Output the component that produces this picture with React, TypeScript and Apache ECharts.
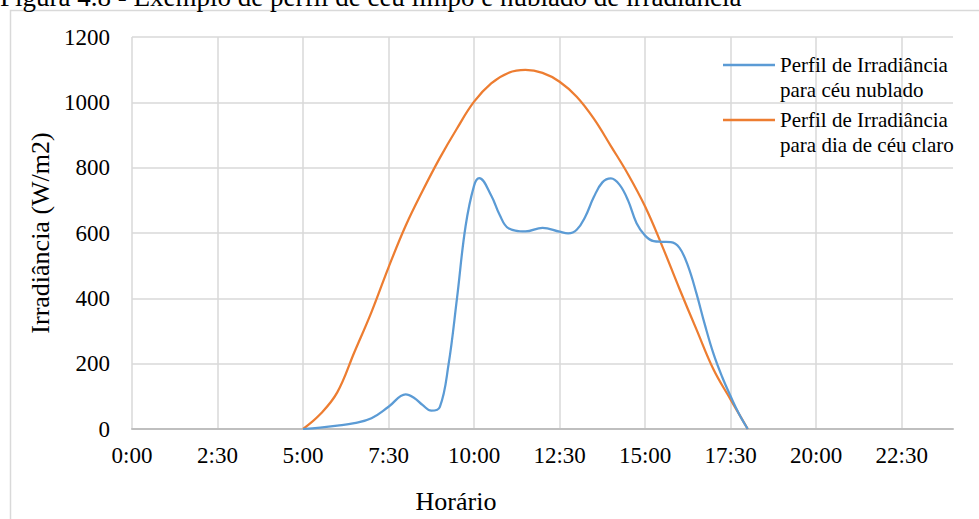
import React, { useEffect, useRef } from "react";
import * as echarts from "echarts";

const titleText = "Figura 4.8 - Exemplo de perfil de céu limpo e nublado de irradiância";
const xAxisTitle = "Horário";
const yAxisTitle = "Irradiância (W/m2)";
const seriesNames = [
  "Perfil de Irradiância\npara céu nublado",
  "Perfil de Irradiância\npara dia de céu claro",
];

// Cloudy-sky profile (hours, W/m2)
const cloudyHours = [
  5.0, 5.5, 6.0, 6.5, 7.0, 7.5, 8.0, 8.25, 8.5, 8.75, 9.0, 9.25, 9.5, 9.75, 10.0, 10.15,
  10.5, 10.75, 11.0, 11.5, 12.0, 12.5, 12.75, 13.0, 13.25, 13.5, 13.75, 14.0, 14.25, 14.5,
  14.75, 15.0, 15.25, 15.5, 15.75, 16.0, 16.25, 16.5, 16.75, 17.0, 17.25, 17.5, 17.75, 18.0,
];
const cloudyValues = [
  0, 4, 10, 18, 33, 68, 106, 95, 73, 56, 68, 195, 400, 620, 745, 768,
  715, 655, 615, 605, 616, 604, 599, 610, 650, 710, 755, 767, 748, 700,
  630, 592, 575, 573, 572, 555, 500, 415, 318, 230, 160, 100, 45, 0,
];

// Clear-sky profile (hours, W/m2)
const clearHours = [
  5.0, 5.5, 6.0, 6.5, 7.0, 7.5, 8.0, 8.5, 9.0, 9.5, 10.0, 10.5, 11.0, 11.5, 12.0, 12.5,
  13.0, 13.5, 14.0, 14.5, 15.0, 15.5, 16.0, 16.5, 17.0, 17.5, 18.0,
];
const clearValues = [
  0, 45, 112, 235, 358, 495, 622, 730, 830, 920, 1002, 1058, 1090, 1099, 1090, 1063,
  1017, 950, 866, 780, 681, 560, 430, 305, 182, 90, 0,
];

const xMin = 0;
const xMax = 24;
const xStep = 2.5;
const yMin = 0;
const yMax = 1200;
const yStep = 200;

const FONT = "'Liberation Serif', 'Times New Roman', serif";
// thin line at the top of a taller (invisible) box so it aligns with the first text line
const LEGEND_LINE_ICON = "path://M0,0L52,0L52,2.5L0,2.5Z M0,27.49L0.01,27.49L0.01,27.5Z";

export default function App() {
  const ref = useRef<HTMLDivElement>(null);

  useEffect(() => {
    if (!ref.current) return;
    const chart = echarts.init(ref.current, undefined, { renderer: "svg" });
    const fmtTime = (v: number) => {
      if (v >= 24) return "";
      const h = Math.floor(v);
      const m = Math.round((v - h) * 60);
      return `${h}:${m < 10 ? "0" + m : m}`;
    };
    const legendCommon = {
      left: 723,
      padding: 0,
      itemWidth: 52,
      itemHeight: 27.5,
      icon: LEGEND_LINE_ICON,
      symbolKeepAspect: false,
      textStyle: {
        fontFamily: FONT,
        fontSize: 21,
        lineHeight: 25,
        color: "#000",
      },
    };
    chart.setOption({
      animation: false,
      backgroundColor: "#fff",
      textStyle: { fontFamily: FONT },
      grid: { left: 132, right: 26, top: 37, bottom: 90, containLabel: false },
      legend: [
        { ...legendCommon, top: 52.5, data: [seriesNames[0]] },
        { ...legendCommon, top: 107.5, data: [seriesNames[1]] },
      ],
      xAxis: {
        type: "value",
        min: xMin,
        max: xMax,
        interval: xStep,
        axisLine: { show: true, lineStyle: { color: "#bfbfbf", width: 2 } },
        axisTick: { show: false },
        splitLine: {
          show: true,
          showMaxLine: false,
          lineStyle: { color: "#d9d9d9", width: 1.5 },
        },
        axisLabel: {
          formatter: fmtTime,
          margin: 15,
          fontFamily: FONT,
          fontSize: 23,
          color: "#000",
          showMaxLabel: false,
        },
      },
      yAxis: {
        type: "value",
        min: yMin,
        max: yMax,
        interval: yStep,
        name: yAxisTitle,
        nameLocation: "middle",
        nameGap: 72,
        nameTextStyle: { fontFamily: FONT, fontSize: 26, color: "#000" },
        axisLine: { show: false },
        axisTick: { show: false },
        splitLine: { show: true, lineStyle: { color: "#d9d9d9", width: 1.5 } },
        axisLabel: {
          formatter: (v: number) => String(v),
          margin: 22,
          fontFamily: FONT,
          fontSize: 23,
          color: "#000",
        },
      },
      graphic: [
        {
          type: "rect",
          silent: true,
          shape: { x: 10.5, y: 10.5, width: 1000, height: 600 },
          style: { fill: "none", stroke: "#d9d9d9", lineWidth: 1.5 },
          z: -1,
        },
        {
          type: "text",
          left: 0,
          top: -17,
          style: { text: titleText, font: `27px ${FONT}`, fill: "#000" },
        },
        {
          type: "text",
          x: 456,
          y: 501,
          style: {
            text: xAxisTitle,
            font: `26px ${FONT}`,
            fill: "#000",
            align: "center",
            verticalAlign: "middle",
          },
        },
      ],
      series: [
        {
          name: seriesNames[0],
          type: "line",
          smooth: 0.4,
          symbol: "none",
          lineStyle: { color: "#5b9bd5", width: 2.25 },
          itemStyle: { color: "#5b9bd5" },
          data: cloudyHours.map((h, i) => [h, cloudyValues[i]]),
          z: 3,
        },
        {
          name: seriesNames[1],
          type: "line",
          smooth: 0.4,
          symbol: "none",
          lineStyle: { color: "#ed7d31", width: 2.25 },
          itemStyle: { color: "#ed7d31" },
          data: clearHours.map((h, i) => [h, clearValues[i]]),
          z: 2,
        },
      ],
    });
    return () => chart.dispose();
  }, []);

  return (
    <div
      ref={ref}
      style={{ position: "absolute", left: 0, top: 0, width: 979, height: 519 }}
    />
  );
}
